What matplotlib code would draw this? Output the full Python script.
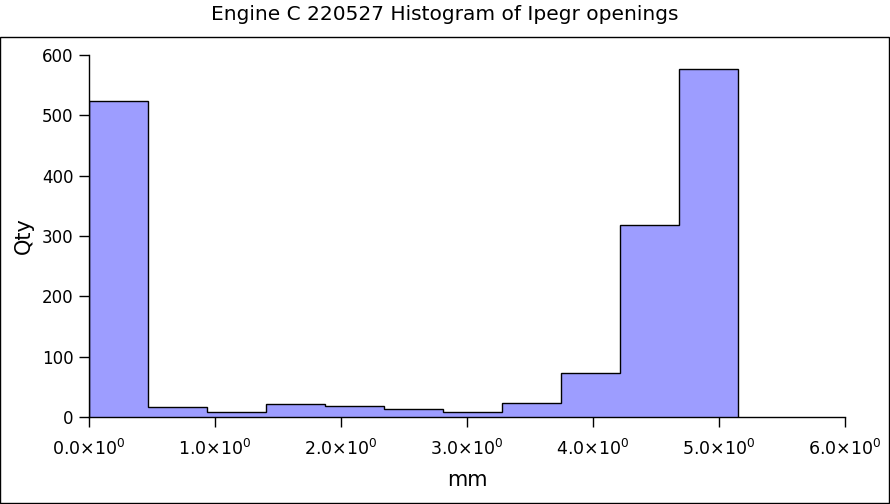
import matplotlib
matplotlib.use("Agg")
import matplotlib.pyplot as plt
from matplotlib.patches import Rectangle
from matplotlib.ticker import FuncFormatter
import numpy as np

bin_edges = [0.0, 0.468, 0.936, 1.404, 1.872, 2.340, 2.808, 3.276, 3.744, 4.212, 4.680, 5.148]
counts = [523, 16, 8, 21, 18, 14, 8, 23, 73, 318, 577]
x_ticks = [0, 1, 2, 3, 4, 5, 6]
y_ticks = [0, 100, 200, 300, 400, 500, 600]
title = "Engine C 220527 Histogram of Ipegr openings"

fig = plt.figure(figsize=(8.9, 5.04), dpi=100)
fig.patches.append(Rectangle((0.0005, 0.001), 0.998, (504 - 37) / 504 - 0.001,
                             transform=fig.transFigure, fill=False,
                             edgecolor="black", linewidth=1.0))
ax = fig.add_axes([89 / 890, 87 / 504, (845 - 89) / 890, (417 - 55) / 504])

ax.stairs(counts, bin_edges, fill=True, color="#9d9dff", linewidth=0)
ax.stairs(counts, bin_edges, fill=False, color="black", linewidth=1.0, baseline=0)

ax.set_xlim(0, 6)
ax.set_ylim(0, 600)
ax.set_xticks(x_ticks)
ax.set_yticks(y_ticks)
ax.xaxis.set_major_formatter(FuncFormatter(lambda v, p: f"{v:.1f}" + r"$\times10^{0}$"))
for s in ["top", "right"]:
    ax.spines[s].set_visible(False)
ax.spines["left"].set_linewidth(1.0)
ax.spines["bottom"].set_linewidth(1.0)
ax.tick_params(axis="x", direction="out", length=7, width=1, labelsize=12.5, pad=9)
ax.tick_params(axis="y", direction="out", length=7, width=1, labelsize=12, pad=4)

ax.set_xlabel("mm", fontsize=15, labelpad=8)
ax.set_ylabel("Qty", fontsize=15, labelpad=6)
fig.text(0.5, 1 - 15 / 504, title, ha="center", va="center", fontsize=14.5)

fig.savefig("out.png", dpi=100)
